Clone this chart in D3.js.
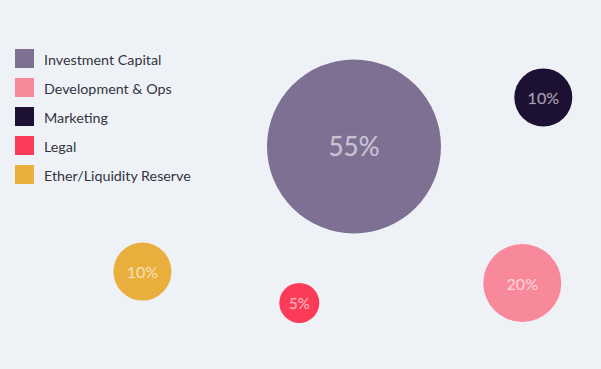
<!DOCTYPE html>
<html>
<head>
<meta charset="utf-8">
<script src="https://cdn.jsdelivr.net/npm/d3@7"></script>
<style>
  html, body { margin: 0; padding: 0; background: #eef2f6; }
  svg { display: block; }
</style>
</head>
<body>
<svg id="chart" width="601" height="369"></svg>
<script>
// ---- data ----
const categories = ["Investment Capital", "Development & Ops", "Marketing", "Legal", "Ether/Liquidity Reserve"];
const values = [55, 20, 10, 5, 10];
const colors = ["#7e7093", "#f7899a", "#1d1133", "#fb3b57", "#e9ae3b"];

// ---- layout (fractions of the canvas for each bubble centre) ----
const W = 601, H = 369;
const layoutX = [0.589, 0.869, 0.904, 0.498, 0.237];
const layoutY = [0.397, 0.767, 0.264, 0.821, 0.736];

const svg = d3.select("#chart");
svg.append("rect").attr("width", W).attr("height", H).attr("fill", "#eef2f6");

const fx = d3.scaleLinear().domain([0, 1]).range([0, W]);
const fy = d3.scaleLinear().domain([0, 1]).range([0, H]);
const r = d3.scaleLinear().domain([5, 10, 20, 55]).range([20, 29, 39, 87]);
const color = d3.scaleOrdinal().domain(categories).range(colors);

const nodes = categories.map((c, i) => ({ name: c, value: values[i], x: fx(layoutX[i]), y: fy(layoutY[i]) }));

const g = svg.append("g").selectAll("g.bubble").data(nodes).join("g")
  .attr("class", "bubble")
  .attr("transform", d => `translate(${d.x},${d.y})`);

g.append("circle")
  .attr("r", d => r(d.value))
  .attr("fill", d => color(d.name));

g.append("text")
  .attr("text-anchor", "middle")
  .attr("dominant-baseline", "central")
  .attr("font-family", "Lato, 'Open Sans', sans-serif")
  .attr("font-size", d => d.value >= 50 ? 26 : (d.value <= 5 ? 15 : 16))
  .attr("fill", "#ffffff")
  .attr("fill-opacity", 0.58)
  .attr("stroke", "#ffffff")
  .attr("stroke-opacity", 0.25)
  .attr("stroke-width", 0.4)
  .text(d => d.value + "%");

// ---- legend ----
const legend = svg.append("g").attr("transform", "translate(15,49)");
const ly = d3.scaleBand().domain(categories).range([0, 29 * categories.length]).paddingInner(0);
const items = legend.selectAll("g").data(categories).join("g")
  .attr("transform", d => `translate(0,${ly(d)})`);
items.append("rect").attr("width", 19).attr("height", 19).attr("fill", d => color(d));
items.append("text")
  .attr("x", 29).attr("y", 10)
  .attr("dominant-baseline", "central")
  .attr("font-family", "Lato, 'Open Sans', sans-serif")
  .attr("font-size", 14.3)
  .attr("fill", "#34343f")
  .text(d => d);
</script>
</body>
</html>
